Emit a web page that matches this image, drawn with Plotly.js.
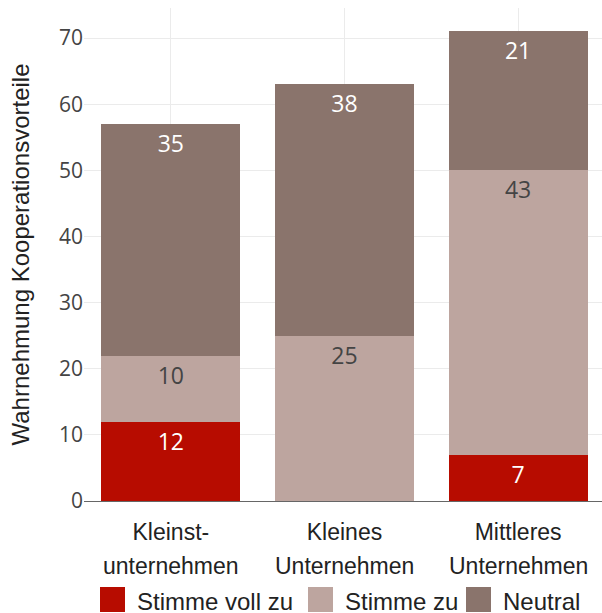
<!DOCTYPE html>
<html>
<head>
<meta charset="utf-8">
<script src="https://cdn.plot.ly/plotly-3.0.1.min.js"></script>
<style>
  html, body { margin: 0; padding: 0; background: #fff; }
  #chart { width: 602px; height: 613px; }
</style>
</head>
<body>
<div id="chart"></div>
<script>
// Categories (two-line labels)
const categories = ['Kleinst', 'Kleines', 'Mittleres'];
const labelLine1 = ['Kleinst-', 'Kleines', 'Mittleres'];
const labelLine2 = ['unternehmen', 'Unternehmen', 'Unternehmen'];

// Series values (stacked bottom to top)
const seriesNames = ['Stimme voll zu', 'Stimme zu', 'Neutral'];
const stimmeVollZu = [12, 0, 7];
const stimmeZu = [10, 25, 43];
const neutral = [35, 38, 21];

const seriesColors = ['#b70c00', '#bda59f', '#8a746c'];
const labelColors = ['#ffffff', '#444444', '#ffffff'];

const yTicks = [0, 10, 20, 30, 40, 50, 60, 70];

const SANS = 'Liberation Sans, Arial, sans-serif';

// Figure geometry (pixels)
const W = 602, H = 613;
const M = { l: 84, r: 0, t: 8, b: 112 };
const plotW = W - M.l - M.r, plotH = H - M.t - M.b;
const px2x = px => (px - M.l) / plotW;
const px2y = py => (H - M.b - py) / plotH;

const allSeries = [stimmeVollZu, stimmeZu, neutral];
const traces = allSeries.map((vals, i) => ({
  type: 'bar',
  name: seriesNames[i],
  x: categories,
  y: vals,
  text: vals.map(v => (v > 0 ? String(v) : '')),
  textposition: 'inside',
  insidetextanchor: 'end',
  textfont: { family: 'Open Sans', size: 23, color: labelColors[i] },
  marker: { color: seriesColors[i], line: { width: 0 } },
  hoverinfo: 'x+y+name',
  showlegend: false
}));

const totals = categories.map((_, j) => allSeries.reduce((s, arr) => s + arr[j], 0));
const yMax = Math.max(...totals) * 1.05;

// Second line of category labels
const annotations = categories.map((c, j) => ({
  x: c, xref: 'x',
  y: px2y(566), yref: 'paper',
  yanchor: 'middle', xanchor: 'center',
  text: labelLine2[j],
  showarrow: false,
  font: { family: SANS, size: 23, color: '#222222' }
}));

// Legend row drawn underneath the axis
const legendSwatchX = [100, 308, 466];
const swatch = 25;
const legendTop = 587;
const shapes = seriesNames.map((n, i) => ({
  type: 'rect', xref: 'paper', yref: 'paper',
  x0: px2x(legendSwatchX[i]), x1: px2x(legendSwatchX[i] + swatch),
  y0: px2y(legendTop), y1: px2y(legendTop + swatch),
  fillcolor: seriesColors[i], line: { width: 0 }
}));
seriesNames.forEach((n, i) => {
  annotations.push({
    x: px2x(legendSwatchX[i] + swatch + 10), xref: 'paper',
    y: px2y(legendTop + 14), yref: 'paper',
    xanchor: 'left', yanchor: 'middle',
    text: n, showarrow: false,
    font: { family: SANS, size: 24, color: '#222222' }
  });
});

const layout = {
  width: W, height: H,
  margin: M,
  barmode: 'stack',
  bargap: 0.2,
  paper_bgcolor: '#ffffff',
  plot_bgcolor: '#ffffff',
  showlegend: false,
  xaxis: {
    type: 'category',
    tickvals: categories,
    ticktext: labelLine1,
    range: [-0.5, 2.483],
    showgrid: true, gridcolor: '#ebebeb', gridwidth: 1,
    showline: true, linecolor: '#666666', linewidth: 1,
    ticks: '',
    ticklabelstandoff: 10,
    tickfont: { family: SANS, size: 23, color: '#222222' },
    fixedrange: true
  },
  yaxis: {
    range: [0, yMax],
    tickvals: yTicks,
    showgrid: true, gridcolor: '#ebebeb', gridwidth: 1,
    zeroline: false,
    ticks: '',
    tickfont: { family: 'Open Sans', size: 21, color: '#444444' },
    title: {
      text: 'Wahrnehmung Kooperationsvorteile',
      font: { family: SANS, size: 24, color: '#222222' },
      standoff: 22
    },
    fixedrange: true
  },
  shapes: shapes,
  annotations: annotations
};

Plotly.newPlot('chart', traces, layout, { displayModeBar: false, staticPlot: true });
</script>
</body>
</html>
